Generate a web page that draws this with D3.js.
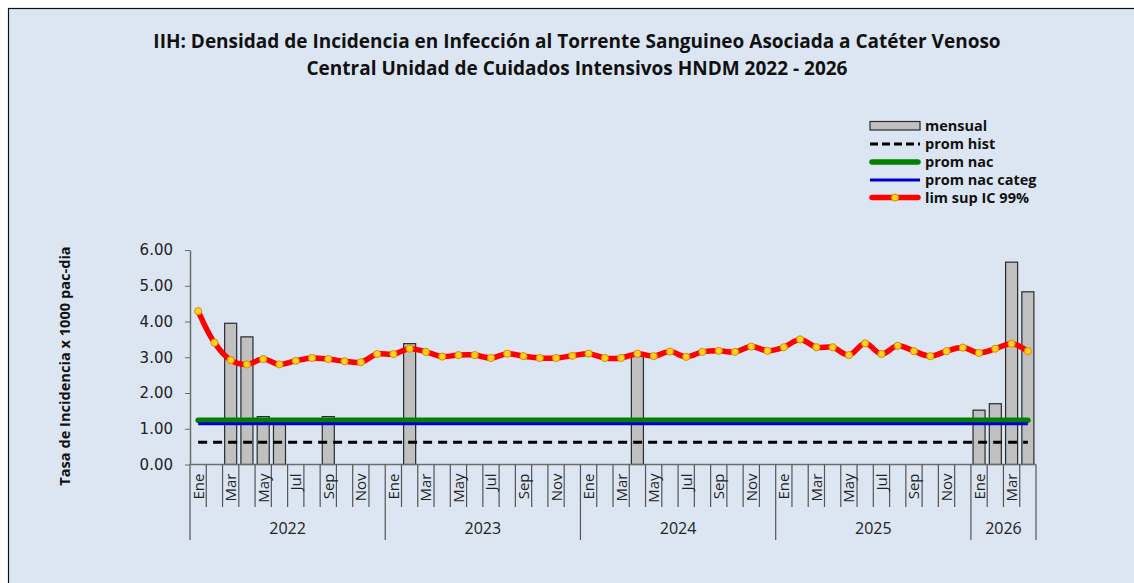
<!DOCTYPE html>
<html>
<head>
<meta charset="utf-8">
<script src="https://cdn.jsdelivr.net/npm/d3@7"></script>
<style>
  html, body { margin: 0; padding: 0; background: #fff; }
  svg { display: block; }
</style>
</head>
<body>
<svg id="chart"></svg>
<script>
// month labels per year and the years shown
var monthNames = ["Ene", "Feb", "Mar", "Abr", "May", "Jun", "Jul", "Ago", "Sep", "Oct", "Nov", "Dic"];
var years = ["2022", "2023", "2024", "2025", "2026"];
var monthsPerYear = [12, 12, 12, 12, 4];

// monthly rate (null = no bar)
var mensual = [
  null, null, 3.95, 3.57, 1.34, 1.12, null, null, 1.34, null, null, null,
  null, 3.38, null, null, null, null, null, null, null, null, null, null,
  null, null, null, 3.02, null, null, null, null, null, null, null, null,
  null, null, null, null, null, null, null, null, null, null, null, null,
  1.52, 1.70, 5.66, 4.83
];

// upper limit IC 99%
var limSup = [
  4.29, 3.41, 2.92, 2.80, 2.95, 2.80, 2.90, 2.98, 2.95, 2.89, 2.86, 3.09,
  3.09, 3.24, 3.15, 3.02, 3.06, 3.06, 2.98, 3.10, 3.03, 2.98, 2.98, 3.04,
  3.10, 2.98, 2.98, 3.10, 3.03, 3.16, 3.01, 3.15, 3.18, 3.15, 3.30, 3.18,
  3.28, 3.50, 3.28, 3.28, 3.06, 3.39, 3.09, 3.32, 3.17, 3.03, 3.17, 3.27,
  3.12, 3.24, 3.38, 3.17
];

// reference averages
var promHist = 0.62;
var promNac = 1.24;
var promNacCateg = 1.14;

var yTicks = [0, 1, 2, 3, 4, 5, 6];

// build category list: one per month
var cats = [];
years.forEach(function(yr, i) {
  for (var m = 0; m < monthsPerYear[i]; m++) {
    cats.push({ key: yr + "-" + m, year: yr, month: monthNames[m], m: m });
  }
});

var W = 1134, H = 583;
var FONT = "'Open Sans', Lato, sans-serif";
var svg = d3.select("#chart").attr("width", W).attr("height", H);

// background + border
svg.append("rect").attr("x", 0).attr("y", 0).attr("width", W).attr("height", H).attr("fill", "#ffffff");
svg.append("rect").attr("x", 8.5).attr("y", 8.5).attr("width", W + 10).attr("height", H + 10)
  .attr("fill", "#dce6f2").attr("stroke", "#111").attr("stroke-width", 1.2);

var plotL = 190, plotR = 1036, plotT = 250, plotB = 464.5;

var x = d3.scaleBand().domain(cats.map(function(d) { return d.key; }))
  .range([plotL, plotR]).paddingInner(0.26).paddingOuter(0.13);
var xs = d3.scaleBand().domain(cats.map(function(d) { return d.key; })).range([plotL, plotR]);
var y = d3.scaleLinear().domain([0, 6]).range([plotB, plotT]);

function cx(i) { return xs(cats[i].key) + xs.bandwidth() / 2; }

var g = svg.append("g");

// title
svg.append("text").attr("text-anchor", "middle").attr("x", 577).attr("y", 48)
  .attr("font-family", FONT).attr("font-weight", "bold")
  .attr("font-size", 19).attr("fill", "#111")
  .text("IIH: Densidad de Incidencia en Infección al Torrente Sanguineo Asociada a Catéter Venoso");
svg.append("text").attr("text-anchor", "middle").attr("x", 577).attr("y", 74.5)
  .attr("font-family", FONT).attr("font-weight", "bold")
  .attr("font-size", 19).attr("fill", "#111")
  .text("Central Unidad de Cuidados Intensivos HNDM 2022 - 2026");

// y axis
var yAxis = g.append("g").attr("transform", "translate(" + plotL + ",0)")
  .call(d3.axisLeft(y).tickValues(yTicks).tickFormat(d3.format(".2f")).tickSize(5).tickSizeOuter(0));
yAxis.select(".domain").attr("stroke", "#6b6b6b").attr("stroke-width", 1.5);
yAxis.selectAll(".tick line").attr("stroke", "#6b6b6b");
yAxis.selectAll(".tick text").attr("font-family", "'DejaVu Sans', Verdana, sans-serif")
  .attr("font-size", 15).attr("fill", "#222").attr("x", -17);

// y label
svg.append("text").attr("transform", "translate(70,366) rotate(-90)")
  .attr("text-anchor", "middle").attr("font-family", FONT)
  .attr("font-weight", "bold").attr("font-size", 14.6).attr("fill", "#111")
  .text("Tasa de Incidencia x 1000 pac-dia");

// bars
g.selectAll(".bar").data(cats.map(function(d, i) { return { c: d, v: mensual[i] }; })
  .filter(function(d) { return d.v != null; }))
  .enter().append("rect").attr("class", "bar")
  .attr("x", function(d) { return x(d.c.key); })
  .attr("width", x.bandwidth())
  .attr("y", function(d) { return y(d.v); })
  .attr("height", function(d) { return y(0) - y(d.v); })
  .attr("fill", "#c0c0c0").attr("stroke", "#2a2a2a").attr("stroke-width", 1.2);

// x axis base line
g.append("line").attr("x1", plotL).attr("x2", plotR).attr("y1", plotB).attr("y2", plotB)
  .attr("stroke", "#6b6b6b").attr("stroke-width", 1.5);

// month tick lines
g.selectAll(".mtick").data(cats).enter().append("line").attr("class", "mtick")
  .attr("x1", function(d) { return xs(d.key); }).attr("x2", function(d) { return xs(d.key); })
  .attr("y1", plotB).attr("y2", function(d) { return d.m === 0 ? 540 : 507; })
  .attr("stroke", "#555").attr("stroke-width", 1.2);
g.append("line").attr("x1", plotR).attr("x2", plotR).attr("y1", plotB).attr("y2", 540)
  .attr("stroke", "#555").attr("stroke-width", 1.2);

// month labels (every other month)
g.selectAll(".mlab").data(cats.filter(function(d) { return d.m % 2 === 0; }))
  .enter().append("text").attr("class", "mlab")
  .attr("transform", function(d) {
    return "translate(" + (xs(d.key) + xs.bandwidth() / 2 + 5.5) + "," + (plotB + 9) + ") rotate(-90)";
  })
  .attr("text-anchor", "end").attr("font-family", FONT)
  .attr("font-size", 15).attr("fill", "#222")
  .text(function(d) { return d.month; });

// year labels
years.forEach(function(yr, i) {
  var yc = cats.filter(function(d) { return d.year === yr; });
  var x0 = xs(yc[0].key), x1 = xs(yc[yc.length - 1].key) + xs.bandwidth();
  g.append("text").attr("x", (x0 + x1) / 2).attr("y", 534).attr("text-anchor", "middle")
    .attr("font-family", FONT).attr("font-size", 16).attr("fill", "#222")
    .text(yr);
});

// reference lines
var xFirst = cx(0), xLast = cx(cats.length - 1);
g.append("line").attr("x1", xFirst).attr("x2", xLast).attr("y1", y(promHist)).attr("y2", y(promHist))
  .attr("stroke", "#000").attr("stroke-width", 3).attr("stroke-dasharray", "9,6");
g.append("line").attr("x1", xFirst).attr("x2", xLast).attr("y1", y(promNac)).attr("y2", y(promNac))
  .attr("stroke", "#008000").attr("stroke-width", 5.5).attr("stroke-linecap", "round");
g.append("line").attr("x1", xFirst).attr("x2", xLast).attr("y1", y(promNacCateg)).attr("y2", y(promNacCateg))
  .attr("stroke", "#0000cc").attr("stroke-width", 3);

// lim sup line
var line = d3.line().x(function(d, i) { return cx(i); }).y(function(d) { return y(d); })
  .curve(d3.curveCatmullRom.alpha(0.5));
g.append("path").datum(limSup).attr("fill", "none").attr("stroke", "#ff0000")
  .attr("stroke-width", 5.5).attr("stroke-linejoin", "round").attr("stroke-linecap", "round")
  .attr("d", line);
g.selectAll(".pt").data(limSup).enter().append("circle").attr("class", "pt")
  .attr("cx", function(d, i) { return cx(i); }).attr("cy", function(d) { return y(d); })
  .attr("r", 3.6).attr("fill", "#ffd21f").attr("stroke", "#e08a00").attr("stroke-width", 1);

// legend
var lg = svg.append("g");
var lx0 = 870, lx1 = 920, tx = 925;
var rows = [126, 144, 162, 180, 197.5];
var names = ["mensual", "prom hist", "prom nac", "prom nac categ", "lim sup IC 99%"];
lg.append("rect").attr("x", lx0).attr("y", rows[0] - 4.5).attr("width", lx1 - lx0).attr("height", 8.5)
  .attr("fill", "#c0c0c0").attr("stroke", "#2a2a2a").attr("stroke-width", 1.2);
lg.append("line").attr("x1", lx0).attr("x2", lx1).attr("y1", rows[1]).attr("y2", rows[1])
  .attr("stroke", "#000").attr("stroke-width", 3).attr("stroke-dasharray", "8,4");
lg.append("line").attr("x1", lx0 + 2).attr("x2", lx1 - 2).attr("y1", rows[2]).attr("y2", rows[2])
  .attr("stroke", "#008000").attr("stroke-width", 5.5).attr("stroke-linecap", "round");
lg.append("line").attr("x1", lx0).attr("x2", lx1).attr("y1", rows[3]).attr("y2", rows[3])
  .attr("stroke", "#0000cc").attr("stroke-width", 3);
lg.append("line").attr("x1", lx0 + 2).attr("x2", lx1 - 2).attr("y1", rows[4]).attr("y2", rows[4])
  .attr("stroke", "#ff0000").attr("stroke-width", 5.5).attr("stroke-linecap", "round");
lg.append("circle").attr("cx", (lx0 + lx1) / 2).attr("cy", rows[4]).attr("r", 3.6)
  .attr("fill", "#ffd21f").attr("stroke", "#e08a00");
lg.selectAll(".ltxt").data(names).enter().append("text").attr("class", "ltxt")
  .attr("x", tx).attr("y", function(d, i) { return rows[i] + 5; })
  .attr("font-family", FONT).attr("font-weight", "bold")
  .attr("font-size", 14.5).attr("fill", "#111")
  .text(function(d) { return d; });
</script>
</body>
</html>
